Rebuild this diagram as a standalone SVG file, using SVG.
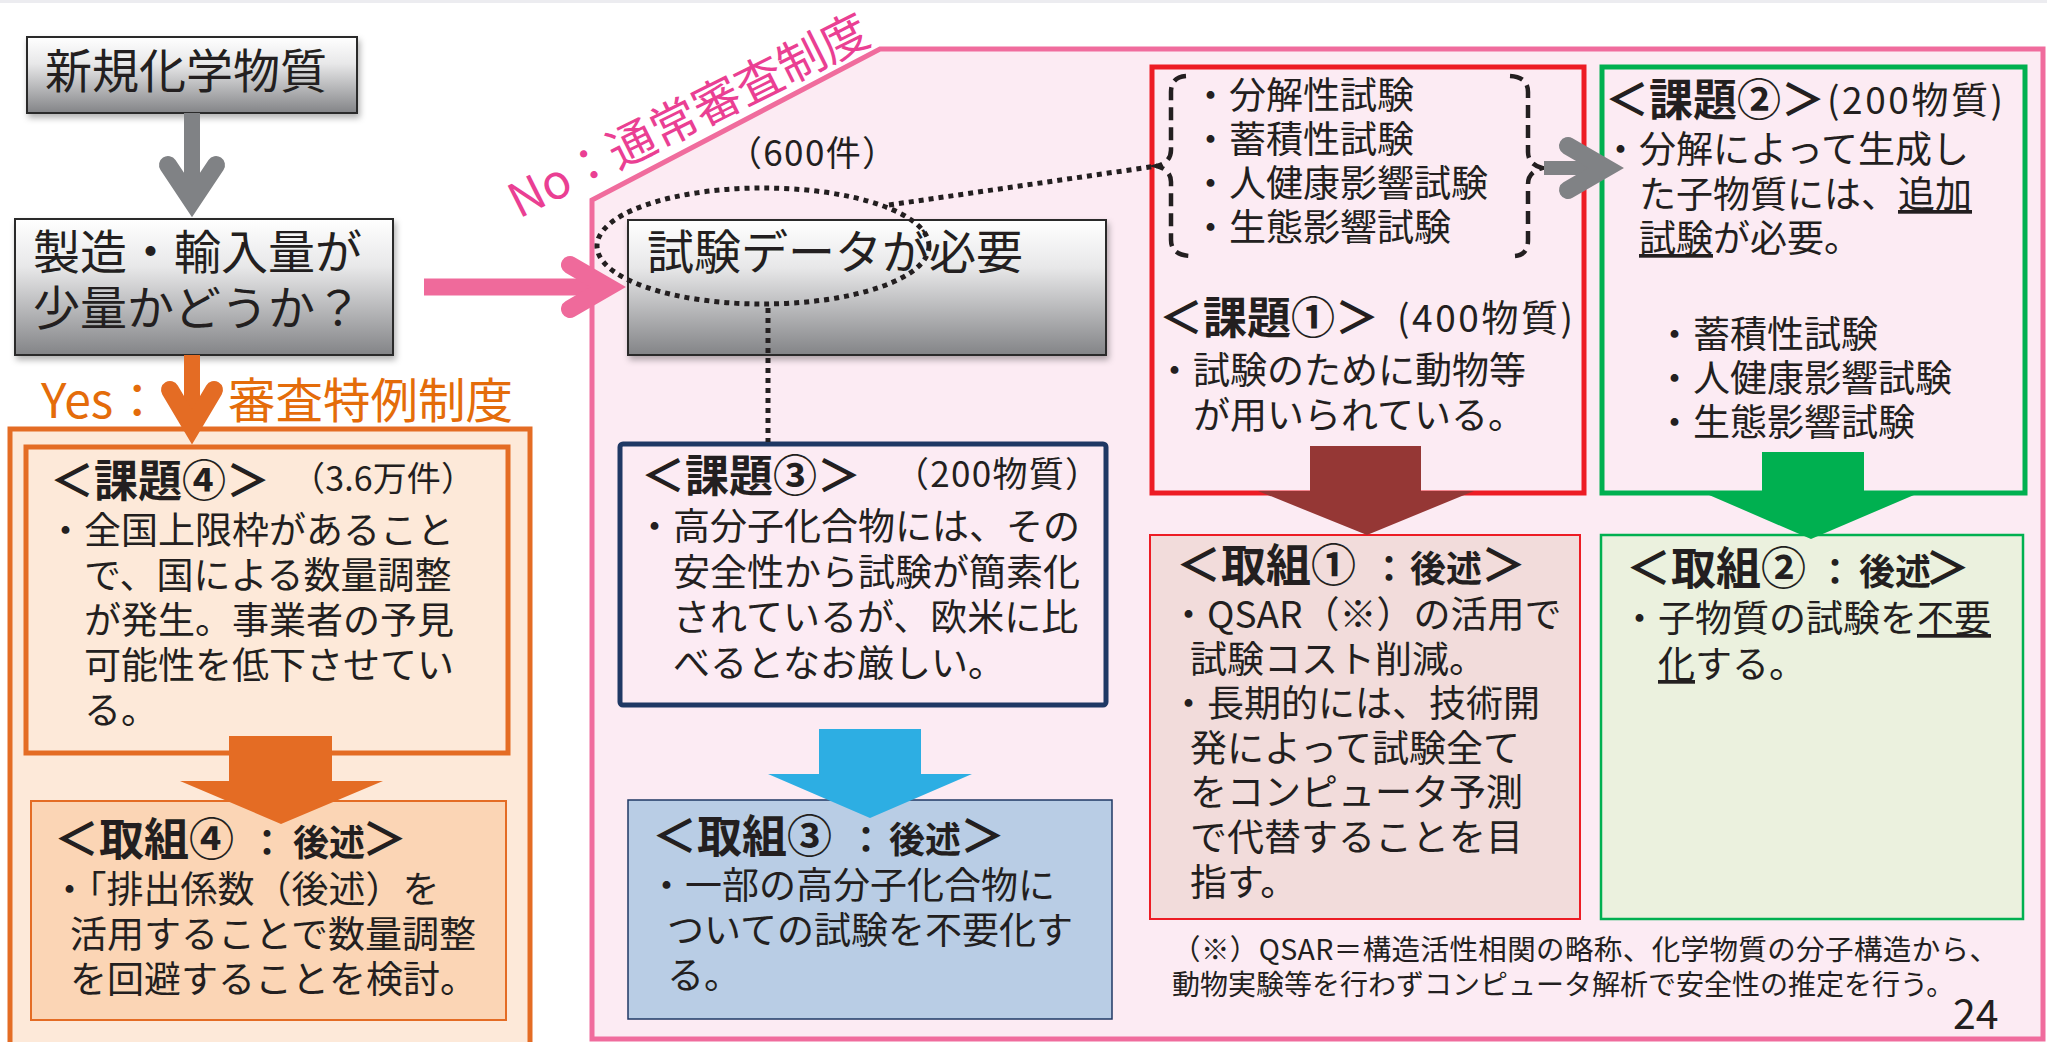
<svg xmlns="http://www.w3.org/2000/svg" width="2047" height="1042" viewBox="0 0 2047 1042">
<defs>
<linearGradient id="gray" x1="0" y1="0" x2="0" y2="1">
<stop offset="0" stop-color="#ffffff"/>
<stop offset="0.35" stop-color="#e8e8e9"/>
<stop offset="1" stop-color="#838487"/>
</linearGradient>
<filter id="sh" x="-10%" y="-10%" width="130%" height="140%">
<feDropShadow dx="2" dy="4" stdDeviation="3" flood-color="#000" flood-opacity="0.3"/>
</filter>
</defs>
<style>
text{font-family:"Noto Sans CJK JP","Noto Sans",sans-serif;fill:#231f20}
.b{font-size:37px}
.h{font-size:44px;font-weight:700}
.hb{font-size:45px;font-weight:700}
.hs{font-size:36px;font-weight:700}
.big{font-size:47px}
.p{font-size:35px}
.gbox{fill:url(#gray);stroke:#2b2b2b;stroke-width:2;filter:url(#sh)}
.dot{fill:none;stroke:#231f20;stroke-width:5;stroke-dasharray:5 5}
.u{text-decoration:underline}
.chev{fill:none;stroke-width:18;stroke-linecap:round;stroke-linejoin:miter;stroke-miterlimit:10}
</style>
<rect x="0" y="0" width="2047" height="1042" fill="#ffffff"/>
<rect x="0" y="0" width="2047" height="3" fill="#ececf0"/>

<g id="region-normal">
<polygon points="592,1039 592,200 880,49 2043,49 2043,1039" fill="#fcebf3" stroke="#f06c9d" stroke-width="5"/>
<text x="519" y="219" transform="rotate(-26.5 519 219)" style="font-size:47.5px;fill:#ea3f93">No：通常審査制度</text>
<text x="727" y="166" class="p" textLength="170">（600件）</text>
</g>

<g id="region-special">
<rect x="10" y="429" width="520" height="640" fill="#fde9d9" stroke="#e46c24" stroke-width="5"/>
<text x="41" y="418" style="font-size:48px;fill:#e46c0a">Yes：</text>
<text x="228" y="418" style="font-size:47.5px;fill:#e46c0a">審査特例制度</text>
</g>

<g id="node-new">
<rect class="gbox" x="27" y="37" width="330" height="76"/>
<text x="45" y="88" class="big">新規化学物質</text>
</g>

<g id="node-question">
<rect class="gbox" x="15" y="219" width="378" height="136"/>
<text x="33" y="269" class="big">製造・輸入量が</text>
<text x="33" y="325" class="big">少量かどうか？</text>
</g>

<g id="node-data">
<rect class="gbox" x="628" y="220" width="478" height="135"/>
<text x="647" y="269" class="big">試験データが必要</text>
</g>

<g id="node-issue4">
<rect x="26" y="447" width="482" height="306" fill="#fde9d9" stroke="#e46c24" stroke-width="5"/>
<text x="50" y="497" class="h">＜課題④＞</text>
<text x="291" y="491" style="font-size:34px" textLength="184">（3.6万件）</text>
<text x="47" y="544" class="b">・全国上限枠があること</text>
<text x="84" y="589" class="b">で、国による数量調整</text>
<text x="84" y="634" class="b">が発生。事業者の予見</text>
<text x="84" y="679" class="b">可能性を低下させてい</text>
<text x="84" y="724" class="b">る。</text>
</g>

<g id="node-action4">
<rect x="31" y="801" width="475" height="219" fill="#fbd5b5" stroke="#e46c24" stroke-width="2"/>
<text x="54" y="856" class="hb">＜取組④</text>
<text x="249" y="856" class="hs">：</text>
<text x="293" y="856" class="hs">後述</text>
<text x="362" y="856" class="hb">＞</text>
<text x="51" y="903" class="b">・「排出係数（後述）を</text>
<text x="70" y="948" class="b">活用することで数量調整</text>
<text x="70" y="993" class="b">を回避することを検討。</text>
</g>

<g id="node-issue3">
<rect x="620" y="444" width="486" height="261" rx="3" fill="#fcebf3" stroke="#1f3864" stroke-width="5"/>
<text x="641" y="492" class="h">＜課題③＞</text>
<text x="894" y="487" class="p" textLength="206">（200物質）</text>
<text x="636" y="540" class="b">・高分子化合物には、その</text>
<text x="673" y="586" class="b">安全性から試験が簡素化</text>
<text x="673" y="631" class="b">されているが、欧米に比</text>
<text x="673" y="677" class="b">べるとなお厳しい。</text>
</g>

<g id="node-action3">
<rect x="628" y="800" width="484" height="219" fill="#b9cde5" stroke="#1f3864" stroke-width="1.5"/>
<text x="652" y="853" class="hb">＜取組③</text>
<text x="848" y="853" class="hs">：</text>
<text x="889" y="853" class="hs">後述</text>
<text x="960" y="853" class="hb">＞</text>
<text x="648" y="899" class="b">・一部の高分子化合物に</text>
<text x="667" y="944" class="b">ついての試験を不要化す</text>
<text x="667" y="989" class="b">る。</text>
</g>

<g id="node-issue1">
<rect x="1152" y="67" width="432" height="426" fill="#fcebf3" stroke="#ed1c24" stroke-width="5"/>
<path d="M1186,76 Q1171,77 1171,92 L1171,150 Q1171,162 1157,166 Q1171,170 1171,182 L1171,240 Q1171,255 1190,256" fill="none" stroke="#231f20" stroke-width="4.5" stroke-dasharray="13 7"/>
<path d="M1510,76 Q1528,77 1528,92 L1528,152 Q1528,164 1542,168 Q1528,172 1528,184 L1528,240 Q1528,255 1515,256" fill="none" stroke="#231f20" stroke-width="4.5" stroke-dasharray="13 7"/>
<text x="1192" y="109" class="b">・分解性試験</text>
<text x="1192" y="153" class="b">・蓄積性試験</text>
<text x="1192" y="197" class="b">・人健康影響試験</text>
<text x="1192" y="241" class="b">・生態影響試験</text>
<text x="1159" y="334" class="h">＜課題①＞</text>
<text x="1397" y="332" style="font-size:37px" textLength="176">(400物質)</text>
<text x="1156" y="384" class="b">・試験のために動物等</text>
<text x="1193" y="429" class="b">が用いられている。</text>
</g>

<g id="node-issue2">
<rect x="1602" y="67" width="423" height="426" fill="#fcebf3" stroke="#00b050" stroke-width="5"/>
<text x="1605" y="116" class="h">＜課題②＞</text>
<text x="1827" y="114" style="font-size:37px" textLength="176">(200物質)</text>
<text x="1602" y="163" class="b">・分解によって生成し</text>
<text x="1639" y="208" class="b">た子物質には、<tspan class="u">追加</tspan></text>
<text x="1639" y="252" class="b"><tspan class="u">試験</tspan>が必要。</text>
<text x="1656" y="348" class="b">・蓄積性試験</text>
<text x="1656" y="392" class="b">・人健康影響試験</text>
<text x="1656" y="436" class="b">・生態影響試験</text>
</g>

<g id="node-action1">
<rect x="1150" y="535" width="430" height="384" fill="#f2dcdb" stroke="#ed1c24" stroke-width="2"/>
<text x="1176" y="582" class="hb">＜取組①</text>
<text x="1371" y="582" class="hs">：</text>
<text x="1410" y="582" class="hs">後述</text>
<text x="1481" y="582" class="hb">＞</text>
<text x="1170" y="628" class="b">・QSAR（※）の活用で</text>
<text x="1190" y="673" class="b">試験コスト削減。</text>
<text x="1170" y="717" class="b">・長期的には、技術開</text>
<text x="1190" y="762" class="b">発によって試験全て</text>
<text x="1190" y="806" class="b">をコンピュータ予測</text>
<text x="1190" y="851" class="b">で代替することを目</text>
<text x="1190" y="896" class="b">指す。</text>
</g>

<g id="node-action2">
<rect x="1601" y="535" width="422" height="384" fill="#ebf1de" stroke="#00b050" stroke-width="2.5"/>
<text x="1626" y="585" class="hb">＜取組②</text>
<text x="1817" y="585" class="hs">：</text>
<text x="1859" y="585" class="hs">後述</text>
<text x="1925" y="585" class="hb">＞</text>
<text x="1621" y="632" class="b">・子物質の試験を<tspan class="u">不要</tspan></text>
<text x="1658" y="678" class="b"><tspan class="u">化</tspan>する。</text>
</g>

<g id="footnote">
<text x="1172" y="960" style="font-size:28.5px" textLength="826">（※）QSAR＝構造活性相関の略称、化学物質の分子構造から、</text>
<text x="1172" y="995" style="font-size:28px">動物実験等を行わずコンピュータ解析で安全性の推定を行う。</text>
<text x="1953" y="1029" style="font-size:41px">24</text>
</g>

<g id="connectors">
<ellipse cx="763" cy="246" rx="166" ry="58" class="dot"/>
<line x1="889" y1="205" x2="1157" y2="166" class="dot"/>
<line x1="768" y1="308" x2="768" y2="442" class="dot"/>
<line x1="192" y1="113" x2="192" y2="200" stroke="#808285" stroke-width="16"/>
<polyline points="168,165 192,201 216,165" class="chev" stroke="#808285"/>
<line x1="192" y1="355" x2="192" y2="425" stroke="#e46c24" stroke-width="16"/>
<polyline points="170,390 192,427 214,390" class="chev" stroke="#e46c24"/>
<line x1="424" y1="287" x2="606" y2="287" stroke="#ef6a9b" stroke-width="17"/>
<polyline points="570,265 608,287 570,309" class="chev" stroke="#ef6a9b"/>
<line x1="1544" y1="168" x2="1604" y2="168" stroke="#808285" stroke-width="14"/>
<polyline points="1568,146 1606,168 1568,190" class="chev" stroke="#808285"/>
<polygon points="1310,446 1421,446 1421,491 1474,491 1367,535 1258,491 1310,491" fill="#953735"/>
<polygon points="1762,452 1864,452 1864,495 1914,495 1811,539 1709,495 1762,495" fill="#00b050"/>
<polygon points="229,736 332,736 332,781 383,781 281,824 180,781 229,781" fill="#e46c24"/>
<polygon points="819,729 921,729 921,774 972,774 870,818 768,774 819,774" fill="#2daee3"/>
</g>
</svg>
